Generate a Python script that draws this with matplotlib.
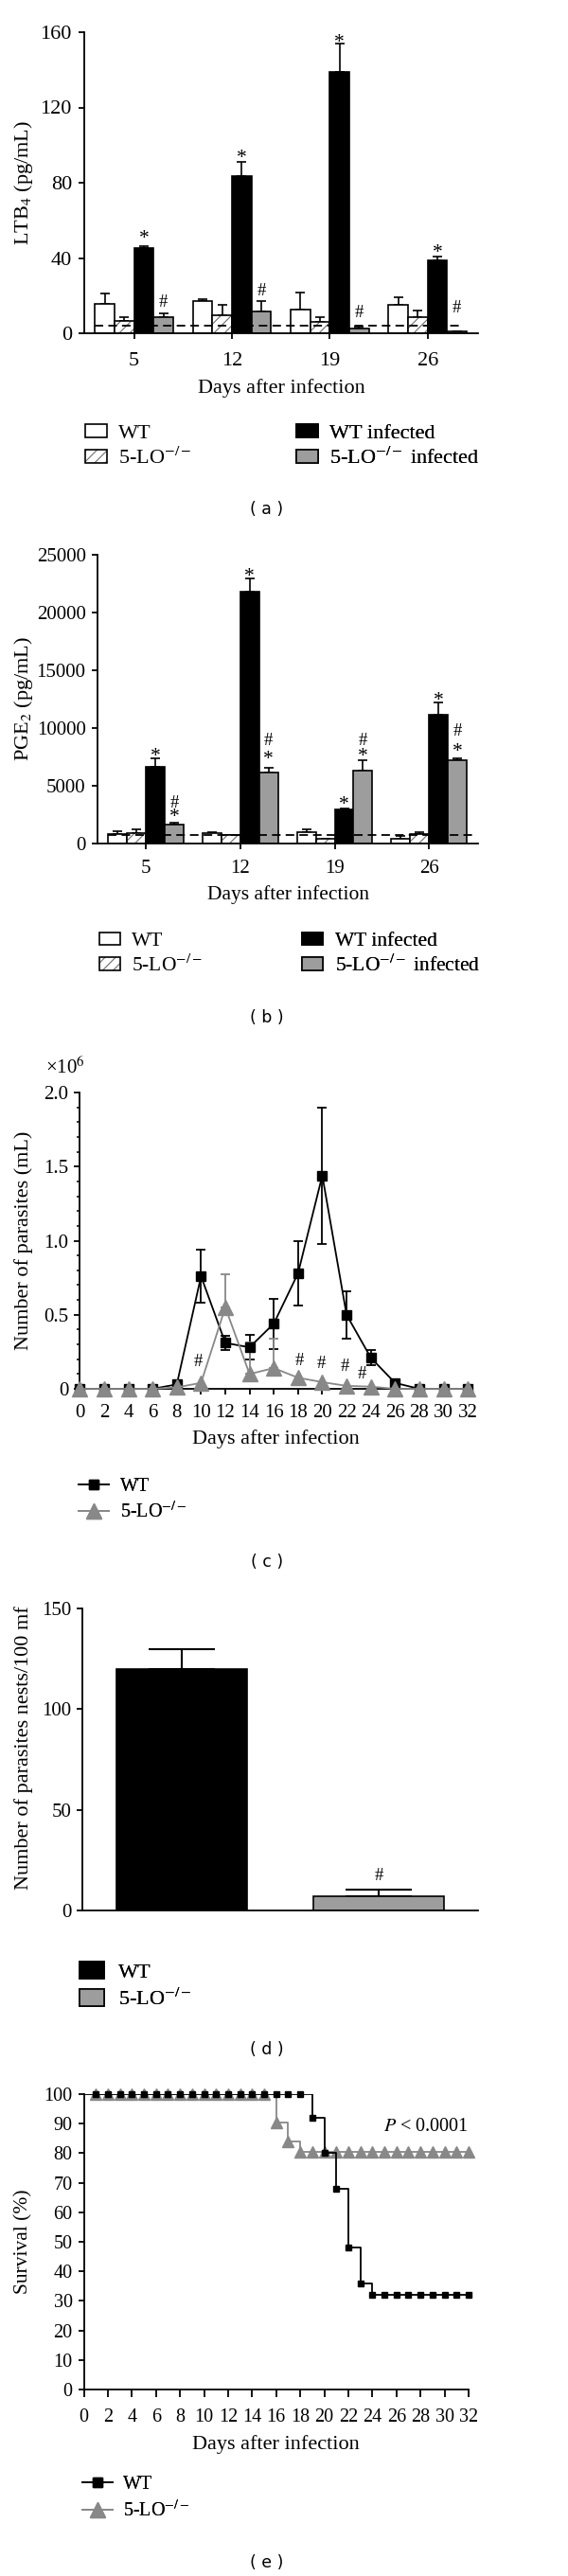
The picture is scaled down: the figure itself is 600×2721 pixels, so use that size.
import matplotlib
matplotlib.use('Agg')
import matplotlib.pyplot as plt
import numpy as np
from matplotlib.patches import Patch
from matplotlib.lines import Line2D
from matplotlib.ticker import MultipleLocator

plt.rcParams['font.family'] = ['Liberation Serif', 'DejaVu Serif']
plt.rcParams['mathtext.fontset'] = 'stix'
plt.rcParams['hatch.color'] = '#6e6e6e'
plt.rcParams['hatch.linewidth'] = 0.8

# ---- data ----
days_ab = ['5', '12', '19', '26']

# (a) LTB4 (pg/mL)
ltb4_wt = [15.6, 17.3, 12.6, 15.1]
ltb4_wt_err = [5.4, 0.9, 8.9, 3.9]
ltb4_ko = [6.4, 9.7, 6.2, 8.6]
ltb4_ko_err = [2.3, 5.3, 2.4, 3.3]
ltb4_wt_inf = [45.4, 83.5, 138.8, 38.5]
ltb4_wt_inf_err = [0.8, 7.8, 15.0, 2.2]
ltb4_ko_inf = [8.4, 11.4, 2.5, 0.8]
ltb4_ko_inf_err = [2.2, 5.9, 1.0, 0.3]
ltb4_base = 3.9
ltb4_star_y = [52.2, 94.9, 156.1, 44.6]
ltb4_hash_y = [17.4, 23.1, 11.9, 14.4]

# (b) PGE2 (pg/mL)
pge2_wt = [824, 879, 1016, 440]
pge2_wt_err = [220, 110, 193, 247]
pge2_ko = [934, 742, 385, 797]
pge2_ko_err = [302, 27, 27, 165]
pge2_wt_inf = [6610, 21785, 2967, 11158]
pge2_wt_inf_err = [730, 1144, 55, 1090]
pge2_ko_inf = [1648, 6130, 6310, 7215]
pge2_ko_inf_err = [192, 440, 890, 190]
pge2_base = 750
pge2_star_y = [7843, 23423, 3677, 12664]
pge2_ko_hash_y = [3619, 9012, 9012, 9886]
pge2_ko_star_y = [2590, 7574, 7843, 8252]

# (c) parasitemia (x10^6 / mL)
days_c = [0, 2, 4, 6, 8, 10, 12, 14, 16, 18, 20, 22, 24, 26, 28, 30, 32]
wt_c = [0, 0, 0, 0, 0.03, 0.76, 0.31, 0.28, 0.44, 0.78, 1.44, 0.50, 0.21, 0.04, 0, 0, 0]
wt_c_err = [0, 0, 0, 0, 0, 0.18, 0.05, 0.085, 0.17, 0.215, 0.46, 0.16, 0.05, 0, 0, 0, 0]
ko_c = [0, 0, 0, 0, 0.01, 0.04, 0.55, 0.10, 0.14, 0.075, 0.045, 0.02, 0.015, 0, 0, 0, 0]
ko_c_err = [0, 0, 0, 0, 0, 0, 0.22, 0.21, 0.20, 0, 0, 0, 0, 0, 0, 0, 0]
hash_c_x = [9.8, 18.15, 19.95, 21.85, 23.3]
hash_c_y = [0.194, 0.20, 0.18, 0.162, 0.109]

# (d) parasite nests
groups_d = ['WT', '5-LO$^{-/-}$']
nests = [119.8, 7.1]
nests_err = [9.8, 3.1]
nests_hash_y = 17.9

# (e) survival (%)
days_e = list(range(0, 33))
surv_wt = [100] * 19 + [92, 80, 68, 48, 36] + [32] * 9
surv_ko = [100] * 16 + [90.3, 83.9] + [80.6] * 15

GRAY = '#9d9d9d'
LGRAY = '#888888'

W, H = 600, 2721
fig = plt.figure(figsize=(W / 100, H / 100), dpi=100)


def px_axes(x0, x1, y0, y1):
    return fig.add_axes([x0 / W, 1 - y1 / H, (x1 - x0) / W, (y1 - y0) / H])


def style(ax, fs, ypad, xpad, xlen=4.3):
    for s in ['top', 'right']:
        ax.spines[s].set_visible(False)
    for s in ['left', 'bottom']:
        ax.spines[s].set_linewidth(1.3)
    ax.tick_params(direction='out', width=1.3, length=4.3, labelsize=fs)
    ax.tick_params(axis='y', pad=ypad)
    ax.tick_params(axis='x', pad=xpad, length=xlen)


def add_legend(ax, handles, labels, x, y, fs, hl, hh, htp, ls):
    leg = ax.legend(handles, labels, loc='upper left',
                    bbox_to_anchor=(x / W, 1 - y / H), bbox_transform=fig.transFigure,
                    frameon=False, borderpad=0, borderaxespad=0, fontsize=fs,
                    handlelength=hl, handleheight=hh, handletextpad=htp,
                    labelspacing=ls)
    ax.add_artist(leg)
    return leg


def mark(ax, x, y, s):
    # put the glyph centre on (x, y)
    fs = 15.5 if s == '*' else 13.5
    lift = 0.40 if s == '*' else 0.34
    ax.annotate(s, (x, y), xytext=(0, -lift * fs), textcoords='offset points',
                ha='center', va='baseline', fontsize=fs, annotation_clip=False)


def grouped(ax, vals, errs):
    x = np.arange(4)
    offs = [-0.3, -0.1, 0.1, 0.3]
    wt, ko, wti, koi = vals
    ax.bar(x + offs[0], wt, 0.2, color='white', edgecolor='black', lw=1.2, zorder=2)
    ax.bar(x + offs[1], ko, 0.2, color='white', hatch='///', linewidth=0, zorder=2)
    ax.bar(x + offs[1], ko, 0.2, fill=False, edgecolor='black', lw=1.2, zorder=2)
    ax.bar(x + offs[2], wti, 0.2, color='black', edgecolor='black', lw=1.2, zorder=2)
    ax.bar(x + offs[3], koi, 0.2, color=GRAY, edgecolor='black', lw=1.2, zorder=2)
    for o, v, e in zip(offs, vals, errs):
        ax.errorbar(x + o, v, yerr=[np.zeros(4), e], fmt='none', ecolor='black',
                    elinewidth=1.2, capsize=3.8, capthick=1.2, zorder=1)
    ax.set_xticks(x, days_ab)


bar_handles = [Patch(facecolor='white', edgecolor='black', lw=1.2),
               (Patch(facecolor='white', hatch='///', linewidth=0),
                Patch(fill=False, edgecolor='black', lw=1.2)),
               Patch(facecolor='black', edgecolor='black', lw=1.2),
               Patch(facecolor=GRAY, edgecolor='black', lw=1.2)]
bar_labels = ['WT', '5-LO$^{-/-}$', 'WT infected', '5-LO$^{-/-}$ infected']

# ---------------- (a) ----------------
ax = px_axes(89.3, 505, 34, 352)
grouped(ax, [ltb4_wt, ltb4_ko, ltb4_wt_inf, ltb4_ko_inf],
        [ltb4_wt_err, ltb4_ko_err, ltb4_wt_inf_err, ltb4_ko_inf_err])
ax.plot([-0.40, 3.37], [ltb4_base, ltb4_base], color='black', lw=1.3,
        ls=(0, (5, 3)), zorder=3)
for i in range(4):
    mark(ax, i + 0.1, ltb4_star_y[i], '*')
    mark(ax, i + 0.3, ltb4_hash_y[i], '#')
ax.set_xlim(-0.507, 3.516)
ax.set_ylim(0, 160)
ax.set_yticks([0, 40, 80, 120, 160])
style(ax, 16, 5.3, 10)
ax.set_ylabel('LTB$_4$ (pg/mL)', fontsize=16)
ax.yaxis.set_label_coords(-0.127, 0.5)
ax.set_xlabel('Days after infection', fontsize=16)
ax.xaxis.set_label_coords(0.5, -0.151)
add_legend(ax, bar_handles[:2], bar_labels[:2], 90, 447.5, 16, 1.02, 0.63, 0.55, 0.22)
add_legend(ax, bar_handles[2:], bar_labels[2:], 313.3, 447.5, 16, 1.02, 0.63, 0.55, 0.22)

# ---------------- (b) ----------------
ax = px_axes(103.3, 505, 586, 891)
grouped(ax, [pge2_wt, pge2_ko, pge2_wt_inf, pge2_ko_inf],
        [pge2_wt_err, pge2_ko_err, pge2_wt_inf_err, pge2_ko_inf_err])
ax.plot([-0.40, 3.47], [pge2_base, pge2_base], color='black', lw=1.3,
        ls=(0, (5, 3)), zorder=3)
for i in range(4):
    mark(ax, i + 0.1, pge2_star_y[i], '*')
    mark(ax, i + 0.3, pge2_ko_hash_y[i], '#')
    mark(ax, i + 0.3, pge2_ko_star_y[i], '*')
ax.set_xlim(-0.508, 3.518)
ax.set_ylim(0, 25000)
ax.set_yticks(range(0, 25001, 5000))
style(ax, 15, 4.8, 8)
ax.set_ylabel('PGE$_2$ (pg/mL)', fontsize=16)
ax.yaxis.set_label_coords(-0.164, 0.5)
ax.set_xlabel('Days after infection', fontsize=15.5)
ax.xaxis.set_label_coords(0.5, -0.144)
add_legend(ax, bar_handles[:2], bar_labels[:2], 105, 984.5, 15.5, 1.0, 0.6, 0.59, 0.2)
add_legend(ax, bar_handles[2:], bar_labels[2:], 319.3, 984.5, 15.5, 1.0, 0.6, 0.59, 0.2)

# ---------------- (c) ----------------
ax = px_axes(84.3, 498, 1154, 1467)
ax.plot(days_c, ko_c, color=LGRAY, lw=1.3, marker='^', ms=11.5, clip_on=False, zorder=5)
ax.plot(days_c, wt_c, color='black', lw=1.3, marker='s', ms=7.2, clip_on=False, zorder=4)
idx = [i for i, e in enumerate(wt_c_err) if e > 0]
ax.errorbar([days_c[i] for i in idx], [wt_c[i] for i in idx],
            yerr=[wt_c_err[i] for i in idx], fmt='none', ecolor='black',
            elinewidth=1.3, capsize=3.6, capthick=1.3, zorder=3)
idx = [i for i, e in enumerate(ko_c_err) if e > 0]
ax.errorbar([days_c[i] for i in idx], [ko_c[i] for i in idx],
            yerr=[[0] * len(idx), [ko_c_err[i] for i in idx]], fmt='none',
            ecolor=LGRAY, elinewidth=1.3, capsize=3.6, capthick=1.3, zorder=3)
for hx, hy in zip(hash_c_x, hash_c_y):
    mark(ax, hx, hy, '#')
ax.set_xlim(0, 32.3)
ax.set_ylim(0, 2.0)
ax.set_xticks(range(0, 33, 2))
ax.set_yticks([0, 0.5, 1.0, 1.5, 2.0], ['0', '0.5', '1.0', '1.5', '2.0'])
ax.yaxis.set_minor_locator(MultipleLocator(0.1))
style(ax, 15, 4.3, 7)
ax.tick_params(axis='y', which='minor', direction='out', length=2.5, width=1.1)
ax.annotate('×10$^{6}$', (0, 1), xycoords='axes fraction', xytext=(-11, 18.7),
            textcoords='offset points', ha='center', va='center', fontsize=15)
ax.set_ylabel('Number of parasites (mL)', fontsize=16)
ax.yaxis.set_label_coords(-0.119, 0.5)
ax.set_xlabel('Days after infection', fontsize=16)
ax.xaxis.set_label_coords(0.5, -0.137)
add_legend(ax, [Line2D([], [], color='black', lw=1.3, marker='s', ms=7.2),
                Line2D([], [], color=LGRAY, lw=1.3, marker='^', ms=11.5)],
           ['WT', '5-LO$^{-/-}$'], 83.3, 1561, 14.5, 1.58, 0.7, 0.6, 0.3)

# ---------------- (d) ----------------
ax = px_axes(87.3, 505, 1699, 2018)
ax.bar([0, 1], nests, 0.665, color=['black', GRAY], edgecolor='black', lw=1.2, zorder=2)
ax.errorbar([0, 1], nests, yerr=[[0, 0], nests_err], fmt='none', ecolor='black',
            elinewidth=1.5, capsize=25, capthick=1.5, zorder=1)
mark(ax, 1, nests_hash_y, '#')
ax.set_xlim(-0.502, 1.504)
ax.set_ylim(0, 150)
ax.set_yticks([0, 50, 100, 150])
ax.set_xticks([])
style(ax, 15, 4, 8)
ax.set_ylabel('Number of parasites nests/100 mf', fontsize=16)
ax.yaxis.set_label_coords(-0.125, 0.54)
add_legend(ax, [Patch(facecolor='black', edgecolor='black', lw=1.2),
                Patch(facecolor=GRAY, edgecolor='black', lw=1.2)],
           groups_d, 84, 2072, 16, 1.17, 0.86, 0.68, 0.3)

# ---------------- (e) ----------------
ax = px_axes(88.5, 495, 2212, 2524)
ax.plot(days_e, surv_ko, color=LGRAY, lw=1.3, drawstyle='steps-post', zorder=3)
ax.plot(days_e[1:], surv_ko[1:], ls='none', marker='^', ms=8.5, color=LGRAY,
        clip_on=False, zorder=4)
ax.plot(days_e, surv_wt, color='black', lw=1.3, drawstyle='steps-post', zorder=5)
ax.plot(days_e[1:], surv_wt[1:], ls='none', marker='s', ms=5, color='black',
        clip_on=False, zorder=6)
ax.text(32, 88.8, '$P$ < 0.0001', ha='right', va='center', fontsize=14.5)
ax.set_xlim(0, 32)
ax.set_ylim(0, 100)
ax.set_xticks(range(0, 33, 2))
ax.set_yticks(range(0, 101, 10))
style(ax, 14.5, 4.3, 9, xlen=5.5)
ax.set_ylabel('Survival (%)', fontsize=15.5)
ax.yaxis.set_label_coords(-0.133, 0.5)
ax.set_xlabel('Days after infection', fontsize=16)
ax.xaxis.set_label_coords(0.5, -0.154)
add_legend(ax, [Line2D([], [], color='black', lw=1.3, marker='s', ms=7),
                Line2D([], [], color=LGRAY, lw=1.3, marker='^', ms=12)],
           ['WT', '5-LO$^{-/-}$'], 87.3, 2615, 14.5, 1.58, 0.7, 0.55, 0.35)

# panel letters
for lab, yy in [('( a )', 538), ('( b )', 1075), ('( c )', 1650), ('( d )', 2165), ('( e )', 2707)]:
    fig.text(282 / W, 1 - yy / H, lab, ha='center', va='center',
             family='DejaVu Sans', fontsize=12.5)

fig.savefig('out.png', dpi=100)
